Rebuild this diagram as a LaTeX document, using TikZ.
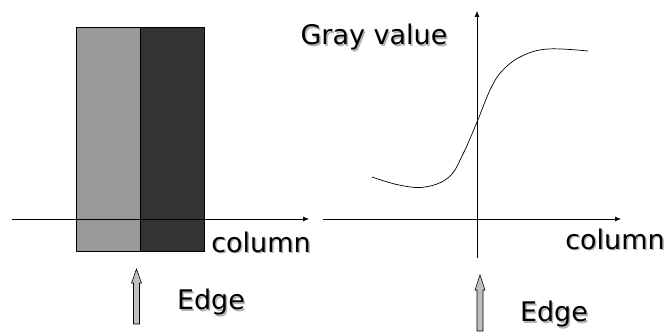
\documentclass[tikz,border=0pt]{standalone}
\usepackage{fontspec}
\setmainfont{DejaVu Sans}
\usetikzlibrary{arrows.meta}
\newcommand\shtext[1]{\leavevmode\rlap{\hspace{1.5pt}\raisebox{-1.5pt}{\color{black!30}#1}}#1}
\begin{document}
\begin{tikzpicture}[x=1pt,y=-1pt,
  lbl/.style={font=\fontsize{27}{30}\selectfont, text=black, inner sep=0pt},
  axis/.style={draw=black, line width=0.7pt, -{Latex[length=6pt,width=5pt]}},
  blockarrow/.style={draw=black, line width=0.6pt, fill=black!25}]
\useasboundingbox (0,0) rectangle (670,334);
% left bars
\filldraw[fill=black!40, draw=black, line width=0.6pt] (76,27) rectangle (140,251);
\filldraw[fill=black!80, draw=black, line width=0.6pt] (140,27) rectangle (204,251);
% left axis
\coordinate (la0) at (12,219);
\coordinate (la1) at (309,219);
\draw[axis] (la0) -- (la1);
% right axes
\coordinate (ra0) at (323,219);
\coordinate (ra1) at (621,219);
\draw[axis] (ra0) -- (ra1);
\coordinate (va0) at (477,258);
\coordinate (va1) at (477,11);
\draw[axis] (va0) -- (va1);
% curve
\draw[line width=0.7pt] plot[smooth, tension=0.65] coordinates {(372,177) (399,185) (425,187) (449,177) (463,154) (477,122) (491,88) (503,70) (522,56) (548,49) (588,51)};
% block arrows
\filldraw[blockarrow] (133.5,324) -- (133.5,283) -- (131.5,283) -- (136.5,269) -- (141.5,283) -- (139.5,283) -- (139.5,324) -- cycle;
\filldraw[blockarrow] (477,331) -- (477,290) -- (475,290) -- (480,275) -- (485,290) -- (483,290) -- (483,331) -- cycle;
% labels
\node[lbl] (t1) at (261,243) {\shtext{column}};
\node[lbl] (t2) at (615,240) {\shtext{column}};
\node[lbl] (t3) at (374,38) {\shtext{Gray value}};
\node[lbl] (t4) at (211,303) {\shtext{Edge}};
\node[lbl] (t5) at (554,315) {\shtext{Edge}};
\end{tikzpicture}
\end{document}
